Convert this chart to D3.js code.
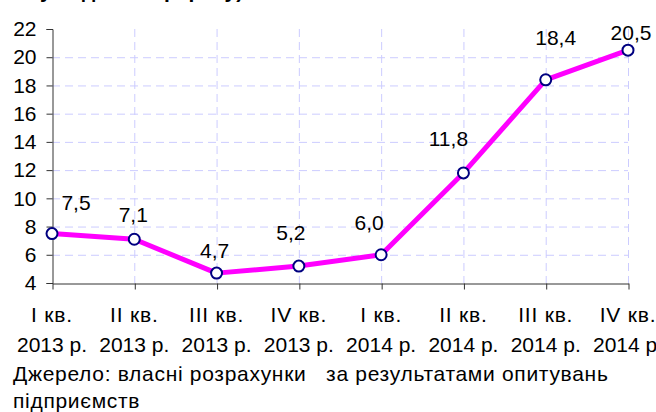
<!DOCTYPE html>
<html>
<head>
<meta charset="utf-8">
<script src="https://cdn.jsdelivr.net/npm/d3@7"></script>
<style>
  body { margin: 0; background: #fff; }
  svg { display: block; font-family: "Liberation Sans", Arial, sans-serif; }
</style>
</head>
<body>
<svg id="chart"></svg>
<script>
// data
const quarters = ["I кв.", "II кв.", "III кв.", "IV кв.", "I кв.", "II кв.", "III кв.", "IV кв."];
const years = ["2013 р.", "2013 р.", "2013 р.", "2013 р.", "2014 р.", "2014 р.", "2014 р.", "2014 р."];
const values = [7.5, 7.1, 4.7, 5.2, 6.0, 11.8, 18.4, 20.5];
const yTicks = [4, 6, 8, 10, 12, 14, 16, 18, 20, 22];
const categories = quarters.map((q, i) => q + " " + years[i]);

// label nudges (as placed in the original)
const labelDx = [24, -1, -2, -8, -12, -15, 10, 3];
const labelDy = [-24, -17, -15, -26, -25, -27, -35, -10];

const width = 656, height = 412;
const fs = "21px";

const svg = d3.select("#chart")
  .attr("width", width)
  .attr("height", height);

const x = d3.scalePoint()
  .domain(categories)
  .range([52, 628]);

const y = d3.scaleLinear()
  .domain([4, 22])
  .range([283, 29]);

// cut-off title at the top
svg.append("text")
  .attr("x", 40)
  .attr("y", -2)
  .style("font-size", fs)
  .style("font-weight", "bold")
  .text("у % до попер. року)");

// grid
const grid = svg.append("g")
  .attr("stroke", "#ccccff")
  .attr("stroke-dasharray", "8,5")
  .attr("stroke-width", 1);

grid.selectAll("line.h")
  .data(yTicks.filter(d => d > 4 && d < 22))
  .enter()
  .append("line")
  .attr("class", "h")
  .attr("x1", x.range()[0])
  .attr("x2", x.range()[1])
  .attr("y1", d => y(d) + 0.5)
  .attr("y2", d => y(d) + 0.5);

grid.selectAll("line.v")
  .data(categories.slice(1))
  .enter()
  .append("line")
  .attr("class", "v")
  .attr("x1", d => x(d) + 0.5)
  .attr("x2", d => x(d) + 0.5)
  .attr("y1", y(22))
  .attr("y2", y(4));

// y axis
const yAxis = svg.append("g")
  .attr("transform", "translate(52.5,0)")
  .call(d3.axisLeft(y).tickValues(yTicks).tickSize(6).tickPadding(10));
yAxis.selectAll("text").style("font-size", fs).attr("fill", "#000");
yAxis.select(".domain").attr("stroke", "#333");
yAxis.selectAll(".tick line").attr("stroke", "#333");

// x axis
const xAxis = svg.append("g")
  .attr("transform", `translate(0.5,${y(4) + 0.5})`)
  .call(d3.axisBottom(x).tickSize(6).tickSizeOuter(0).tickFormat(""));
xAxis.select(".domain").attr("stroke", "#333");
xAxis.selectAll(".tick line").attr("stroke", "#333");

const xl = svg.append("g")
  .attr("text-anchor", "middle")
  .style("font-size", fs);

xl.selectAll("text.q")
  .data(categories)
  .enter()
  .append("text")
  .attr("class", "q")
  .attr("x", d => x(d))
  .attr("y", 322)
  .style("letter-spacing", "0.8px")
  .text((d, i) => quarters[i]);

xl.selectAll("text.yr")
  .data(categories)
  .enter()
  .append("text")
  .attr("class", "yr")
  .attr("x", d => x(d))
  .attr("y", 352)
  .text((d, i) => years[i]);

// line
const line = d3.line()
  .x((d, i) => x(categories[i]))
  .y(d => y(d));

svg.append("path")
  .datum(values)
  .attr("fill", "none")
  .attr("stroke", "#ff00ff")
  .attr("stroke-width", 5)
  .attr("stroke-linejoin", "round")
  .attr("d", line);

svg.selectAll("circle.pt")
  .data(values)
  .enter()
  .append("circle")
  .attr("class", "pt")
  .attr("cx", (d, i) => x(categories[i]))
  .attr("cy", d => y(d))
  .attr("r", 5.5)
  .attr("fill", "#fff")
  .attr("stroke", "#000080")
  .attr("stroke-width", 2);

// value labels
const fmt = d3.format(".1f");
svg.selectAll("text.val")
  .data(values)
  .enter()
  .append("text")
  .attr("class", "val")
  .attr("text-anchor", "middle")
  .attr("x", (d, i) => x(categories[i]) + labelDx[i])
  .attr("y", (d, i) => y(d) + labelDy[i])
  .style("font-size", fs)
  .text(d => fmt(d).replace(".", ","));

// source note
const src = svg.append("text")
  .attr("x", 13)
  .style("font-size", fs)
  .style("letter-spacing", "0.7px")
  .style("white-space", "pre");
src.append("tspan").attr("x", 13).attr("y", 381)
  .text("Джерело: власні розрахунки   за результатами опитувань");
src.append("tspan").attr("x", 13).attr("y", 408).text("підприємств");
</script>
</body>
</html>
